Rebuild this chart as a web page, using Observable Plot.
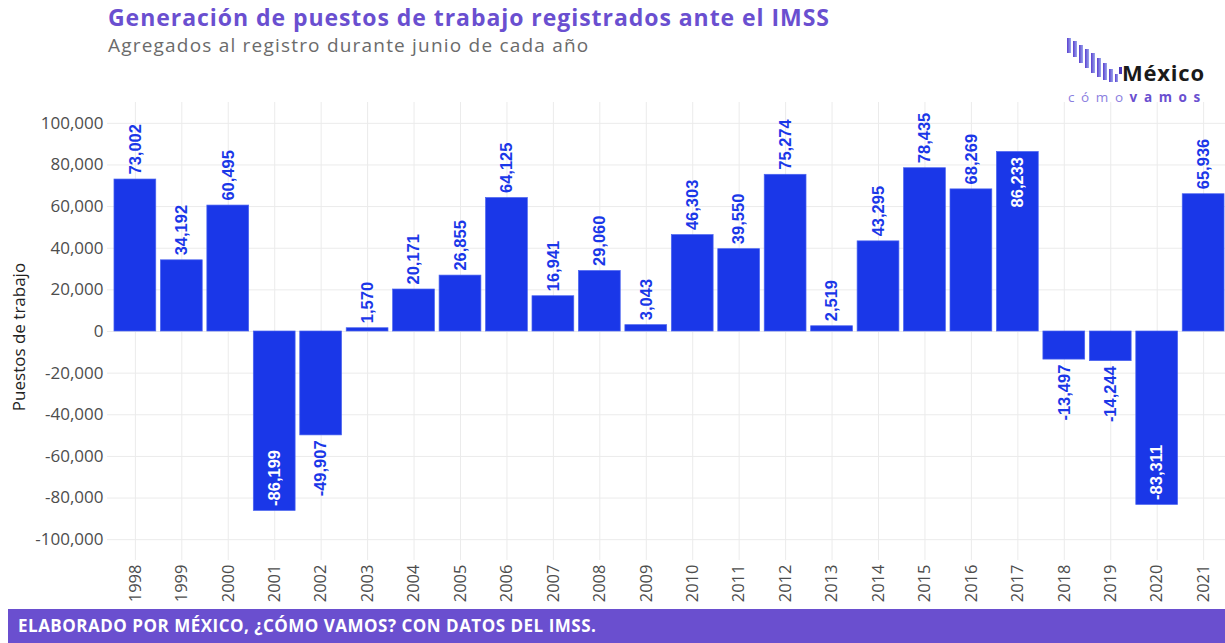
<!DOCTYPE html>
<html>
<head>
<meta charset="utf-8">
<script src="https://cdn.jsdelivr.net/npm/d3@7"></script>
<script src="https://cdn.jsdelivr.net/npm/@observablehq/plot@0.6"></script>
<style>
  html, body { margin: 0; padding: 0; background: #fff; }
  body { width: 1225px; height: 643px; position: relative; overflow: hidden; font-family: "Open Sans", sans-serif; }
  #title { position: absolute; left: 108px; top: 6px; font-size: 23px; letter-spacing: 0.95px; font-weight: 700; color: #6a4fd0; line-height: 1; white-space: nowrap; }
  #subtitle { position: absolute; left: 108px; top: 36px; font-size: 19px; letter-spacing: 1.2px; font-weight: 400; color: #6b6b6b; line-height: 1; white-space: nowrap; }
  #chart { position: absolute; left: 0; top: 90px; }
  #ylabel { position: absolute; left: 18px; top: 337px; transform: translate(-50%, -50%) rotate(-90deg); font-size: 17px; color: #222; white-space: nowrap; line-height: 1; }
  #footer { position: absolute; left: 8px; top: 609px; width: 1217px; height: 34px; background: #6a4fcf; color: #fff; font-weight: 700; font-size: 17px; letter-spacing: 0.5px; line-height: 34px; padding-left: 10px; box-sizing: border-box; white-space: nowrap; }
  #logo { position: absolute; left: 1060px; top: 32px; }
</style>
</head>
<body>
<div id="title">Generación de puestos de trabajo registrados ante el IMSS</div>
<div id="subtitle">Agregados al registro durante junio de cada año</div>
<svg id="logo" width="165" height="74" viewBox="0 0 165 74">
  <defs>
    <linearGradient id="lg" x1="0" x2="1" y1="0" y2="0">
      <stop offset="0" stop-color="#5b3fd0"/>
      <stop offset="1" stop-color="#9aa8ec"/>
    </linearGradient>
  </defs>
  <g fill="url(#lg)">
    <rect x="7" y="6" width="4" height="15"/>
    <rect x="13" y="9" width="4" height="16"/>
    <rect x="19" y="13" width="4" height="18"/>
    <rect x="25" y="17" width="4" height="19"/>
    <rect x="31" y="21" width="4" height="20"/>
    <rect x="37" y="26" width="4" height="19"/>
    <rect x="43" y="31" width="4" height="17"/>
    <rect x="49" y="37" width="4" height="13"/>
    <rect x="55" y="42" width="3" height="8"/>
  </g>
  <rect x="59" y="35" width="3" height="7" fill="#4b3bc0"/>
  <text x="62" y="49" font-family="Open Sans, sans-serif" font-weight="700" font-size="22" letter-spacing="0.8" fill="#1a1a1a">México</text>
  <text x="8" y="70" font-family="Open Sans, sans-serif" font-size="13.5" letter-spacing="6.6" fill="#8a7ee0">cómo<tspan font-weight="700" fill="#6a4fd0">vamos</tspan></text>
</svg>
<div id="chart"></div>
<div id="ylabel">Puestos de trabajo</div>
<div id="footer">ELABORADO POR MÉXICO, ¿CÓMO VAMOS? CON DATOS DEL IMSS.</div>
<script>
const years = ["1998","1999","2000","2001","2002","2003","2004","2005","2006","2007","2008","2009","2010","2011","2012","2013","2014","2015","2016","2017","2018","2019","2020","2021"];
const values = [73002, 34192, 60495, -86199, -49907, 1570, 20171, 26855, 64125, 16941, 29060, 3043, 46303, 39550, 75274, 2519, 43295, 78435, 68269, 86233, -13497, -14244, -83311, 65936];
const yTicks = [-100000, -80000, -60000, -40000, -20000, 0, 20000, 40000, 60000, 80000, 100000];

const data = years.map((year, i) => ({year, value: values[i]}));
const fmt = v => v.toLocaleString("en-US");
const inside = d => Math.abs(d.value) >= 80000;

const barBlue = "#1a37e8";
const labelFont = "Liberation Sans, Arial, sans-serif";
const common = {x: "year", y: "value", text: d => fmt(d.value), rotate: -90, lineAnchor: "middle", fontWeight: "bold", fontFamily: labelFont, fontSize: 16.5};

const chart = Plot.plot({
  width: 1225,
  height: 517,
  marginTop: 12,
  marginBottom: 47,
  marginLeft: 107,
  marginRight: 0,
  style: {fontFamily: "Open Sans, sans-serif", color: "#4d4d4d", background: "transparent"},
  x: {domain: years, range: [107, 1231], paddingInner: 0.1, paddingOuter: 0.15, round: false},
  y: {domain: [-110000, 110000]},
  marks: [
    Plot.gridY(yTicks, {stroke: "#ebebeb", strokeOpacity: 1}),
    Plot.gridX(years, {stroke: "#ebebeb", strokeOpacity: 1}),
    Plot.barY(data, {x: "year", y: "value", fill: barBlue, stroke: "#4b64f0", strokeWidth: 0.7}),
    Plot.text(data.filter(d => !inside(d) && d.value >= 0), {...common, textAnchor: "start", dy: -5, fill: barBlue}),
    Plot.text(data.filter(d => !inside(d) && d.value < 0), {...common, textAnchor: "end", dy: 5, fill: barBlue}),
    Plot.text(data.filter(d => inside(d) && d.value >= 0), {...common, textAnchor: "end", dy: 5, fill: "#ffffff"}),
    Plot.text(data.filter(d => inside(d) && d.value < 0), {...common, textAnchor: "start", dy: -5, fill: "#ffffff"}),
    Plot.axisY({ticks: yTicks, tickFormat: fmt, tickSize: 0, tickPadding: 4, fontSize: 17, label: null}),
    Plot.axisX({tickRotate: -90, tickSize: 0, tickPadding: 4, fontSize: 16.5, label: null})
  ]
});
document.getElementById("chart").appendChild(chart);
</script>
</body>
</html>
